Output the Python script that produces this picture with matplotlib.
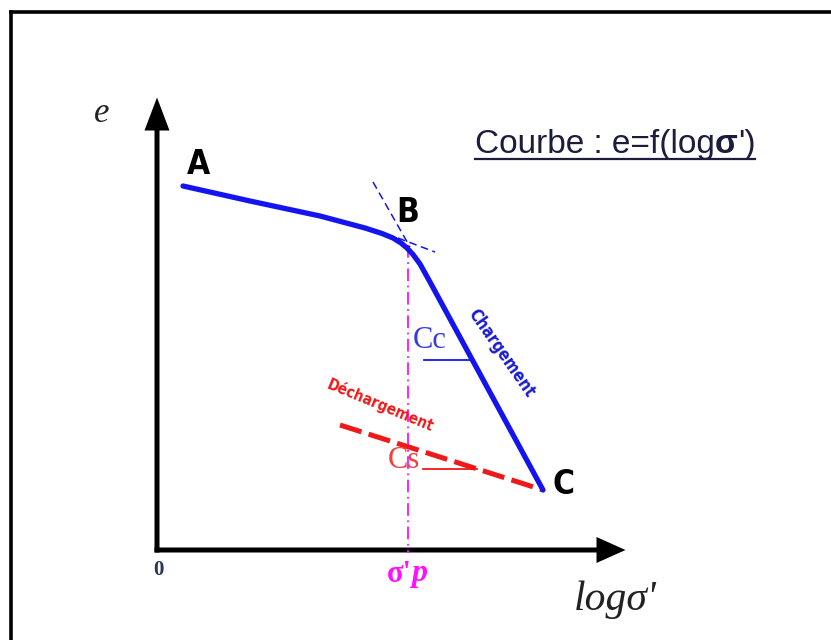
import numpy as np
import matplotlib.pyplot as plt
from matplotlib.lines import Line2D

# Oedometer curve e = f(log sigma'), schematic units (origin at axis corner)
load_x = [0.26, 0.93, 1.63, 2.08, 2.25, 2.36, 2.44, 2.50, 2.56, 2.63, 2.73, 3.86]
load_e = [3.64, 3.49, 3.34, 3.22, 3.165, 3.12, 3.07, 3.02, 2.955, 2.86, 2.68, 0.60]

unload_x = [1.83, 3.86]
unload_e = [1.25, 0.60]

# tangents used to locate the preconsolidation point B
tan_steep_x = [2.16, 2.53]
tan_steep_e = [3.68, 3.03]
tan_flat_x = [2.41, 2.78]
tan_flat_e = [3.12, 2.98]

sigma_p = 2.51
cc_level = 1.90
cs_level = 0.81

point_names = ["A", "B", "C"]
point_x = [0.41, 2.51, 4.07]
point_e = [3.85, 3.37, 0.66]

BLUE = "#1414f0"
RED = "#f01818"
MAGENTA = "#ff10ff"
SERIF = ["Liberation Serif", "DejaVu Serif"]
narrow = dict(family="DejaVu Sans", fontstretch="condensed", fontweight="heavy")

fig = plt.figure(figsize=(8.31, 6.40), dpi=100)
ax = fig.add_axes([0, 0, 1, 1])
ax.set_xlim(-1.57, 6.74)
ax.set_ylim(-0.90, 5.50)
ax.axis("off")

# frame around the drawing (top and left edges visible)
fig.add_artist(Line2D([11 / 831, 11 / 831], [0, 1 - 11.5 / 640],
                      transform=fig.transFigure, color="black", lw=2.6))
fig.add_artist(Line2D([11 / 831, 1], [1 - 11.5 / 640, 1 - 11.5 / 640],
                      transform=fig.transFigure, color="black", lw=2.6))

# axes with arrows
ax.arrow(0, -0.025, 0, 4.55, width=0.05, head_width=0.25, head_length=0.33,
         length_includes_head=True, fc="black", ec="black", lw=0)
ax.arrow(-0.025, 0, 4.71, 0, width=0.05, head_width=0.26, head_length=0.29,
         length_includes_head=True, fc="black", ec="black", lw=0)

ax.text(-0.55, 4.37, "e", fontsize=25, style="italic", family=SERIF,
        ha="center", va="center", color="#222222")
ax.text(4.58, -0.50, "logσ'", fontsize=30, style="italic", family=SERIF,
        ha="center", va="center", color="#222222")
ax.text(0.01, -0.20, "0", fontsize=15, fontweight="bold", family=SERIF,
        ha="center", va="center", color="#2a3550")

# preconsolidation stress
ax.plot([sigma_p, sigma_p], [3.05, -0.03], color=MAGENTA, lw=1.3,
        linestyle=(0, (7, 2.5, 1, 2.5)), zorder=2)
ax.text(sigma_p + 0.04, -0.24, "σ'", fontsize=22, fontweight="bold",
        family=SERIF, color=MAGENTA, ha="right", va="center")
ax.text(sigma_p + 0.03, -0.24, "p", fontsize=23, fontweight="bold",
        style="italic", family=SERIF, color=MAGENTA, ha="left", va="center")

# tangents
ax.plot(tan_steep_x, tan_steep_e, color=BLUE, lw=1.1, linestyle=(0, (5, 3)))
ax.plot(tan_flat_x, tan_flat_e, color=BLUE, lw=1.1, linestyle=(0, (5, 3)))

# loading and unloading branches
ax.plot(load_x, load_e, color=BLUE, lw=3.8, solid_joinstyle="round",
        solid_capstyle="round", zorder=4)
ax.plot(unload_x, unload_e, color=RED, lw=3.6, linestyle=(0, (4.5, 1.5)),
        zorder=3)

# slope markers Cc and Cs
cc_end = np.interp(cc_level, load_e[-1:-3:-1], load_x[-1:-3:-1])
ax.plot([2.67, cc_end], [cc_level, cc_level], color=BLUE, lw=1.3)
ax.text(2.73, 2.10, "Cc", fontsize=22, family=SERIF, color="#3a3ae0",
        ha="center", va="center")
cs_end = np.interp(cs_level, unload_e[::-1], unload_x[::-1])
ax.plot([2.66, cs_end], [cs_level, cs_level], color=RED, lw=1.3)
ax.text(2.47, 0.90, "Cs", fontsize=22, family=SERIF, color="#f04040",
        ha="center", va="center")

ax.text(3.44, 1.97, "Chargement", fontsize=12, color="#1a1ad0", rotation=-55,
        rotation_mode="anchor", ha="center", va="center", **narrow)
ax.text(2.23, 1.45, "Déchargement", fontsize=11, color=RED, rotation=-22.5,
        rotation_mode="anchor", ha="center", va="center", **narrow)

for name, px, pe in zip(point_names, point_x, point_e):
    ax.text(px, pe, name, fontsize=24, color="black", ha="center", va="center",
            **narrow)

# underlined title, sigma in bold
t1 = ax.text(3.18, 3.97, "Courbe : e=f(log", fontsize=24, family="Liberation Sans",
             color="#1c1c3c", ha="left", va="baseline")
t2 = ax.annotate("σ", xy=(1, 0), xycoords=t1, fontsize=24, fontweight="bold",
                 family="Liberation Sans", color="#1c1c3c", ha="left", va="bottom")
t3 = ax.annotate("')", xy=(1, 0), xycoords=t2, fontsize=24,
                 family="Liberation Sans", color="#1c1c3c", ha="left", va="bottom")
fig.canvas.draw()
renderer = fig.canvas.get_renderer()
x_end = ax.transData.inverted().transform(t3.get_window_extent(renderer).p1)[0]
ax.plot([3.18, x_end], [3.91, 3.91], color="#1c1c3c", lw=1.6)

fig.savefig("out.png", dpi=100)
